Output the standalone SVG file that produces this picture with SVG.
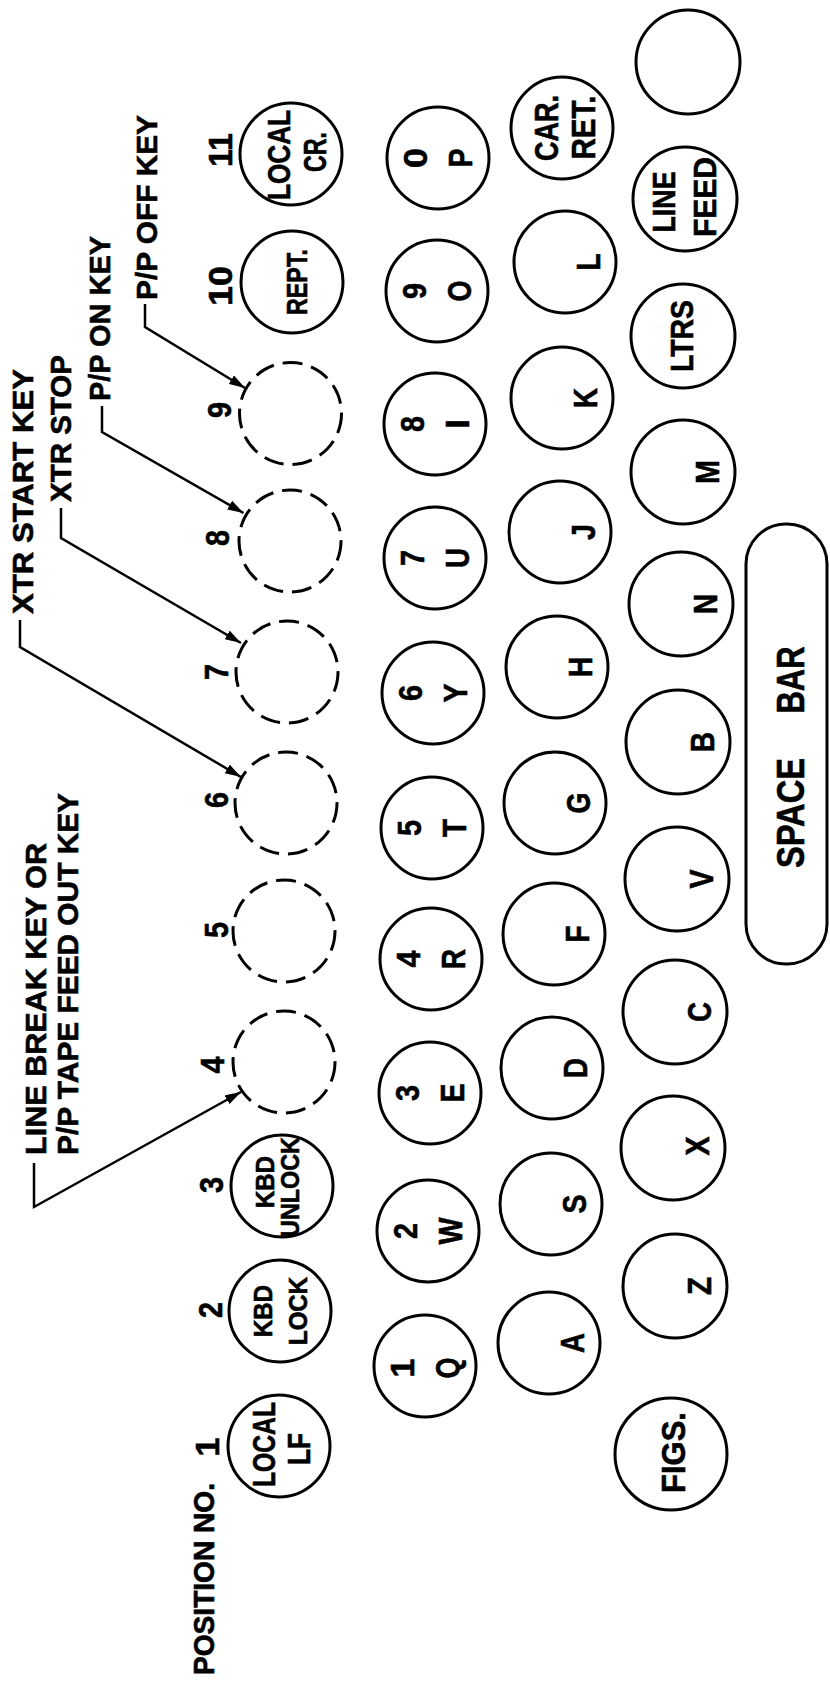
<svg xmlns="http://www.w3.org/2000/svg" width="830" height="1683" viewBox="0 0 830 1683">
<defs>
<style>
.key{fill:#fff;stroke:#000;stroke-width:3}
.dash{fill:none;stroke:#000;stroke-width:3;stroke-dasharray:20 9}
.t{font-family:"Liberation Sans",Arial,Helvetica,sans-serif;font-weight:bold;fill:#000;stroke:#000;stroke-width:0.6;text-anchor:middle}
.s{text-anchor:start}
.f34{font-size:34px}
.f31{font-size:31px}
.f29{font-size:29px}
.f26{font-size:26px}
.f38{font-size:38px}
.ld{fill:none;stroke:#000;stroke-width:2.5;marker-end:url(#ah)}
</style>
<marker id="ah" viewBox="0 0 16 10" refX="16" refY="5" markerWidth="16" markerHeight="10" markerUnits="userSpaceOnUse" orient="auto"><path d="M0,0 L16,5 L0,10 z" fill="#000"/></marker>
</defs>
<rect width="830" height="1683" fill="#fff"/>

<g id="labels">
<text class="t f29" textLength="192" lengthAdjust="spacingAndGlyphs" transform="translate(214,1579) rotate(-90)">POSITION NO.</text>
<text class="t f34" transform="translate(219,1447) rotate(-90)">1</text>
<text class="t f34" textLength="16" lengthAdjust="spacingAndGlyphs" transform="translate(222,1310) rotate(-90)">2</text>
<text class="t f34" textLength="16" lengthAdjust="spacingAndGlyphs" transform="translate(223,1185) rotate(-90)">3</text>
<text class="t f34" textLength="17" lengthAdjust="spacingAndGlyphs" transform="translate(224,1065) rotate(-90)">4</text>
<text class="t f34" textLength="16" lengthAdjust="spacingAndGlyphs" transform="translate(228,930) rotate(-90)">5</text>
<text class="t f34" textLength="16" lengthAdjust="spacingAndGlyphs" transform="translate(228,800) rotate(-90)">6</text>
<text class="t f34" textLength="16" lengthAdjust="spacingAndGlyphs" transform="translate(228,672) rotate(-90)">7</text>
<text class="t f34" textLength="16" lengthAdjust="spacingAndGlyphs" transform="translate(229,538) rotate(-90)">8</text>
<text class="t f34" textLength="16" lengthAdjust="spacingAndGlyphs" transform="translate(230.5,410) rotate(-90)">9</text>
<text class="t f34" textLength="40" lengthAdjust="spacingAndGlyphs" transform="translate(231.5,286) rotate(-90)">10</text>
<text class="t f34" textLength="34" lengthAdjust="spacingAndGlyphs" transform="translate(232,150) rotate(-90)">11</text>
<text class="t s f29" textLength="312" lengthAdjust="spacingAndGlyphs" transform="translate(46.4,1155) rotate(-90)">LINE BREAK KEY OR</text>
<text class="t s f29" textLength="362" lengthAdjust="spacingAndGlyphs" transform="translate(78,1155) rotate(-90)">P/P TAPE FEED OUT KEY</text>
<text class="t s f29" textLength="245" lengthAdjust="spacingAndGlyphs" transform="translate(33,614) rotate(-90)">XTR START KEY</text>
<text class="t s f29" textLength="147" lengthAdjust="spacingAndGlyphs" transform="translate(71,502) rotate(-90)">XTR STOP</text>
<text class="t s f29" textLength="165" lengthAdjust="spacingAndGlyphs" transform="translate(110,401) rotate(-90)">P/P ON KEY</text>
<text class="t s f29" textLength="185" lengthAdjust="spacingAndGlyphs" transform="translate(157,300) rotate(-90)">P/P OFF KEY</text>
</g>

<g id="connectors">
<polyline class="ld" points="34,1163 34,1207 241,1092"/>
<polyline class="ld" points="20,620 20,647 241,777"/>
<polyline class="ld" points="61,508 61,538 241,643"/>
<polyline class="ld" points="102,406 102,432 243.5,513"/>
<polyline class="ld" points="145,304 145,327 245,388"/>
</g>

<!-- Row 1 -->
<g id="key-local-lf"><circle class="key" cx="279" cy="1446" r="51"/>
<text class="t f31" textLength="85" lengthAdjust="spacingAndGlyphs" transform="translate(274.6,1444.5) rotate(-90)">LOCAL</text>
<text class="t f31" textLength="32" lengthAdjust="spacingAndGlyphs" transform="translate(310,1449) rotate(-90)">LF</text></g>
<g id="key-kbd-lock"><circle class="key" cx="280" cy="1311" r="51"/>
<text class="t f26" textLength="52" lengthAdjust="spacingAndGlyphs" transform="translate(272,1311) rotate(-90)">KBD</text>
<text class="t f26" textLength="68" lengthAdjust="spacingAndGlyphs" transform="translate(306.5,1311) rotate(-90)">LOCK</text></g>
<g id="key-kbd-unlock"><circle class="key" cx="282" cy="1186" r="51"/>
<text class="t f26" textLength="52" lengthAdjust="spacingAndGlyphs" transform="translate(274,1182) rotate(-90)">KBD</text>
<text class="t f26" textLength="100" lengthAdjust="spacingAndGlyphs" transform="translate(299,1187) rotate(-90)">UNLOCK</text></g>
<g id="key-4"><circle class="dash" cx="284" cy="1062" r="51"/></g>
<g id="key-5"><circle class="dash" cx="284" cy="931" r="51"/></g>
<g id="key-6"><circle class="dash" cx="286" cy="803" r="51"/></g>
<g id="key-7"><circle class="dash" cx="287" cy="672" r="51"/></g>
<g id="key-8"><circle class="dash" cx="290" cy="541" r="51"/></g>
<g id="key-9"><circle class="dash" cx="290.5" cy="413.5" r="51"/></g>
<g id="key-rept"><circle class="key" cx="292" cy="282" r="51"/>
<text class="t f29" textLength="66" lengthAdjust="spacingAndGlyphs" transform="translate(307,282) rotate(-90)">REPT.</text></g>
<g id="key-local-cr"><circle class="key" cx="291" cy="154" r="51"/>
<text class="t f31" textLength="90" lengthAdjust="spacingAndGlyphs" transform="translate(290,155) rotate(-90)">LOCAL</text>
<text class="t f31" textLength="40" lengthAdjust="spacingAndGlyphs" transform="translate(326,152) rotate(-90)">CR.</text></g>

<!-- Row 2 -->
<g id="key-q"><circle class="key" cx="425" cy="1366" r="51"/>
<text class="t f34" transform="translate(414,1368) rotate(-90)">1</text>
<text class="t f34" textLength="21" lengthAdjust="spacingAndGlyphs" transform="translate(459,1368) rotate(-90)">Q</text></g>
<g id="key-w"><circle class="key" cx="428" cy="1231" r="51"/>
<text class="t f34" textLength="16" lengthAdjust="spacingAndGlyphs" transform="translate(417,1231) rotate(-90)">2</text>
<text class="t f34" textLength="27" lengthAdjust="spacingAndGlyphs" transform="translate(462,1231) rotate(-90)">W</text></g>
<g id="key-e"><circle class="key" cx="430" cy="1093" r="51"/>
<text class="t f34" textLength="16" lengthAdjust="spacingAndGlyphs" transform="translate(419,1093) rotate(-90)">3</text>
<text class="t f34" textLength="19" lengthAdjust="spacingAndGlyphs" transform="translate(464,1093) rotate(-90)">E</text></g>
<g id="key-r"><circle class="key" cx="431" cy="959" r="51"/>
<text class="t f34" textLength="17" lengthAdjust="spacingAndGlyphs" transform="translate(420,959) rotate(-90)">4</text>
<text class="t f34" textLength="20" lengthAdjust="spacingAndGlyphs" transform="translate(465,959) rotate(-90)">R</text></g>
<g id="key-t"><circle class="key" cx="432" cy="828" r="51"/>
<text class="t f34" textLength="16" lengthAdjust="spacingAndGlyphs" transform="translate(421,828) rotate(-90)">5</text>
<text class="t f34" textLength="18" lengthAdjust="spacingAndGlyphs" transform="translate(466,828) rotate(-90)">T</text></g>
<g id="key-y"><circle class="key" cx="433" cy="693" r="51"/>
<text class="t f34" textLength="16" lengthAdjust="spacingAndGlyphs" transform="translate(422,693) rotate(-90)">6</text>
<text class="t f34" textLength="19" lengthAdjust="spacingAndGlyphs" transform="translate(467,693) rotate(-90)">Y</text></g>
<g id="key-u"><circle class="key" cx="435" cy="558" r="51"/>
<text class="t f34" textLength="16" lengthAdjust="spacingAndGlyphs" transform="translate(424,558) rotate(-90)">7</text>
<text class="t f34" textLength="20" lengthAdjust="spacingAndGlyphs" transform="translate(469,558) rotate(-90)">U</text></g>
<g id="key-i"><circle class="key" cx="435" cy="424" r="51"/>
<text class="t f34" textLength="16" lengthAdjust="spacingAndGlyphs" transform="translate(424,424) rotate(-90)">8</text>
<text class="t f34" transform="translate(469,424) rotate(-90)">I</text></g>
<g id="key-o"><circle class="key" cx="437" cy="291" r="51"/>
<text class="t f34" textLength="16" lengthAdjust="spacingAndGlyphs" transform="translate(426,291) rotate(-90)">9</text>
<text class="t f34" textLength="21" lengthAdjust="spacingAndGlyphs" transform="translate(471,291) rotate(-90)">O</text></g>
<g id="key-p"><circle class="key" cx="438" cy="158" r="51"/>
<text class="t f34" textLength="20" lengthAdjust="spacingAndGlyphs" transform="translate(427,158) rotate(-90)">0</text>
<text class="t f34" textLength="19" lengthAdjust="spacingAndGlyphs" transform="translate(472,158) rotate(-90)">P</text></g>

<!-- Row 3 -->
<g id="key-a"><circle class="key" cx="549" cy="1343" r="51"/>
<text class="t f34" textLength="20" lengthAdjust="spacingAndGlyphs" transform="translate(584,1343) rotate(-90)">A</text></g>
<g id="key-s"><circle class="key" cx="551" cy="1204" r="51"/>
<text class="t f34" textLength="19" lengthAdjust="spacingAndGlyphs" transform="translate(586,1204) rotate(-90)">S</text></g>
<g id="key-d"><circle class="key" cx="552" cy="1068" r="51"/>
<text class="t f34" textLength="20" lengthAdjust="spacingAndGlyphs" transform="translate(587,1068) rotate(-90)">D</text></g>
<g id="key-f"><circle class="key" cx="554" cy="934" r="51"/>
<text class="t f34" textLength="17" lengthAdjust="spacingAndGlyphs" transform="translate(589,934) rotate(-90)">F</text></g>
<g id="key-g"><circle class="key" cx="555" cy="803" r="51"/>
<text class="t f34" textLength="21" lengthAdjust="spacingAndGlyphs" transform="translate(590,803) rotate(-90)">G</text></g>
<g id="key-h"><circle class="key" cx="557" cy="667" r="51"/>
<text class="t f34" textLength="20" lengthAdjust="spacingAndGlyphs" transform="translate(592,667) rotate(-90)">H</text></g>
<g id="key-j"><circle class="key" cx="560" cy="532" r="51"/>
<text class="t f34" textLength="16" lengthAdjust="spacingAndGlyphs" transform="translate(595,532) rotate(-90)">J</text></g>
<g id="key-k"><circle class="key" cx="562" cy="398" r="51"/>
<text class="t f34" textLength="20" lengthAdjust="spacingAndGlyphs" transform="translate(597,398) rotate(-90)">K</text></g>
<g id="key-l"><circle class="key" cx="565" cy="262" r="51"/>
<text class="t f34" textLength="17" lengthAdjust="spacingAndGlyphs" transform="translate(600,262) rotate(-90)">L</text></g>
<g id="key-car-ret"><circle class="key" cx="562" cy="128" r="51"/>
<text class="t f34" textLength="66" lengthAdjust="spacingAndGlyphs" transform="translate(558,128) rotate(-90)">CAR.</text>
<text class="t f34" textLength="64" lengthAdjust="spacingAndGlyphs" transform="translate(594.5,127.5) rotate(-90)">RET.</text></g>

<!-- Row 4 -->
<g id="key-figs"><circle class="key" cx="671" cy="1454" r="56"/>
<text class="t f34" textLength="81" lengthAdjust="spacingAndGlyphs" transform="translate(684.5,1452.5) rotate(-90)">FIGS.</text></g>
<g id="key-z"><circle class="key" cx="675" cy="1286" r="52"/>
<text class="t f34" textLength="18" lengthAdjust="spacingAndGlyphs" transform="translate(711,1286) rotate(-90)">Z</text></g>
<g id="key-x"><circle class="key" cx="673" cy="1148" r="52"/>
<text class="t f34" textLength="19" lengthAdjust="spacingAndGlyphs" transform="translate(709,1146) rotate(-90)">X</text></g>
<g id="key-c"><circle class="key" cx="675" cy="1012" r="52"/>
<text class="t f34" textLength="20" lengthAdjust="spacingAndGlyphs" transform="translate(711,1012) rotate(-90)">C</text></g>
<g id="key-v"><circle class="key" cx="677" cy="879" r="52"/>
<text class="t f34" textLength="19" lengthAdjust="spacingAndGlyphs" transform="translate(713,879) rotate(-90)">V</text></g>
<g id="key-b"><circle class="key" cx="678" cy="742" r="52"/>
<text class="t f34" textLength="20" lengthAdjust="spacingAndGlyphs" transform="translate(714,742) rotate(-90)">B</text></g>
<g id="key-n"><circle class="key" cx="681" cy="604" r="52"/>
<text class="t f34" textLength="20" lengthAdjust="spacingAndGlyphs" transform="translate(717,604) rotate(-90)">N</text></g>
<g id="key-m"><circle class="key" cx="683" cy="472" r="52"/>
<text class="t f34" textLength="24" lengthAdjust="spacingAndGlyphs" transform="translate(719,472) rotate(-90)">M</text></g>
<g id="key-ltrs"><circle class="key" cx="683" cy="336" r="52"/>
<text class="t f31" textLength="72" lengthAdjust="spacingAndGlyphs" transform="translate(693,336) rotate(-90)">LTRS</text></g>
<g id="key-line-feed"><circle class="key" cx="685" cy="199" r="52"/>
<text class="t f31" textLength="61" lengthAdjust="spacingAndGlyphs" transform="translate(675,202) rotate(-90)">LINE</text>
<text class="t f31" textLength="80" lengthAdjust="spacingAndGlyphs" transform="translate(716,197) rotate(-90)">FEED</text></g>
<g id="key-blank"><circle class="key" cx="688" cy="62" r="52"/></g>

<g id="space-bar"><rect class="key" x="746" y="524" width="81" height="440" rx="40" ry="40"/>
<text class="t f38" textLength="110" lengthAdjust="spacingAndGlyphs" transform="translate(804,813) rotate(-90)">SPACE</text>
<text class="t f38" textLength="67" lengthAdjust="spacingAndGlyphs" transform="translate(804,680) rotate(-90)">BAR</text></g>
</svg>
